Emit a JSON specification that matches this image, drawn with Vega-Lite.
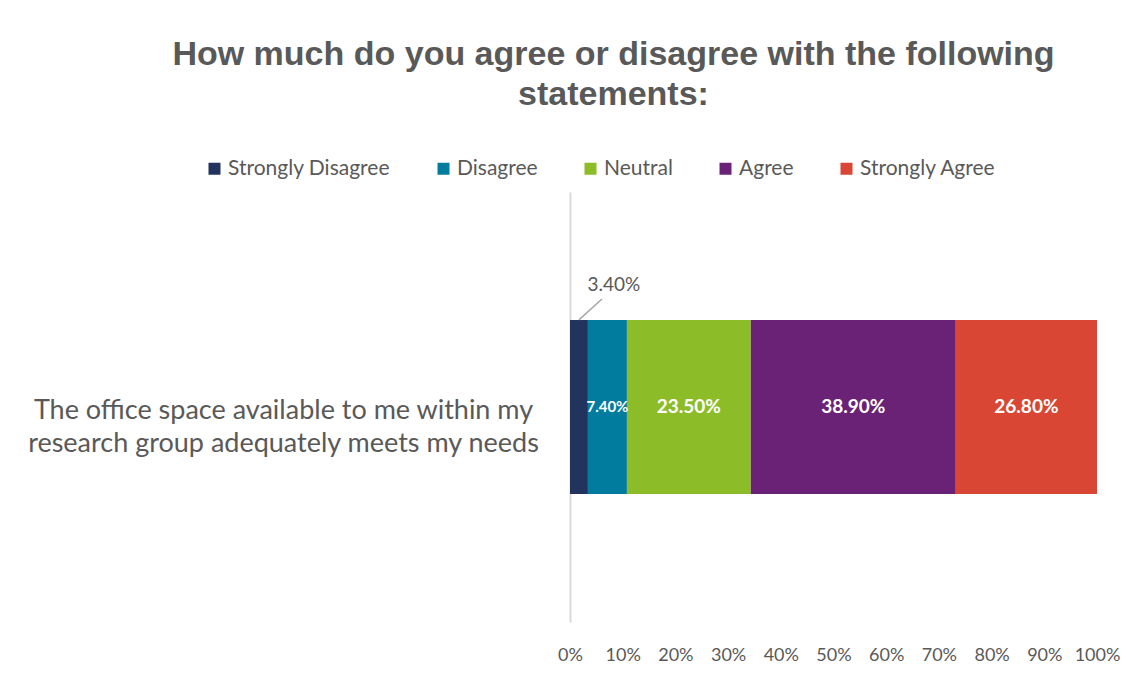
{
  "$schema": "https://vega.github.io/schema/vega-lite/v6.json",
  "width": 527,
  "height": 430,
  "autosize": "none",
  "padding": {"left": 570, "top": 192, "right": 42, "bottom": 55},
  "background": "white",
  "config": {"view": {"stroke": null}},
  "title": {
    "text": ["How much do you agree or disagree with the following", "statements:"],
    "font": "Liberation Sans",
    "fontSize": 34,
    "fontWeight": "bold",
    "color": "#595959",
    "lineHeight": 40,
    "anchor": "middle",
    "frame": "group",
    "dx": -220,
    "offset": 46
  },
  "data": {
    "values": [
      {"q": "The office space available to me within my|research group adequately meets my needs", "response": "Strongly Disagree", "pct": 3.4, "order": 1},
      {"q": "The office space available to me within my|research group adequately meets my needs", "response": "Disagree", "pct": 7.4, "order": 2},
      {"q": "The office space available to me within my|research group adequately meets my needs", "response": "Neutral", "pct": 23.5, "order": 3},
      {"q": "The office space available to me within my|research group adequately meets my needs", "response": "Agree", "pct": 38.9, "order": 4},
      {"q": "The office space available to me within my|research group adequately meets my needs", "response": "Strongly Agree", "pct": 26.8, "order": 5}
    ]
  },
  "transform": [
    {"stack": "pct", "groupby": ["q"], "sort": [{"field": "order", "order": "ascending"}], "as": ["x0", "x1"]},
    {"calculate": "(datum.x0 + datum.x1) / 2", "as": "mid"},
    {"calculate": "format(datum.pct, '.2f') + '%'", "as": "label"}
  ],
  "encoding": {
    "y": {
      "field": "q",
      "type": "nominal",
      "title": null,
      "scale": {"paddingInner": 0.4235, "paddingOuter": 0.4235},
      "axis": {
        "domainColor": "#d9d9d9",
        "domainWidth": 2,
        "ticks": false,
        "labelExpr": "split(datum.label, '|')",
        "labelAlign": "center",
        "labelBaseline": "middle",
        "labelPadding": 287,
        "labelOffset": 4,
        "labelFont": "Lato",
        "labelFontSize": 27,
        "labelLineHeight": 33,
        "labelColor": "#595959",
        "labelLimit": 700
      }
    }
  },
  "layer": [
    {
      "mark": {"type": "bar"},
      "encoding": {
        "x": {
          "field": "x0",
          "type": "quantitative",
          "title": null,
          "scale": {"domain": [0, 100], "nice": false},
          "axis": {
            "values": [0, 10, 20, 30, 40, 50, 60, 70, 80, 90, 100],
            "labelExpr": "datum.value + '%'",
            "domain": false,
            "ticks": false,
            "grid": false,
            "labelPadding": 24,
            "labelFont": "Lato",
            "labelFontSize": 18,
            "labelColor": "#595959",
            "labelFlush": false
          }
        },
        "x2": {"field": "x1"},
        "color": {
          "field": "response",
          "type": "nominal",
          "scale": {
            "domain": ["Strongly Disagree", "Disagree", "Neutral", "Agree", "Strongly Agree"],
            "range": ["#22335e", "#027c9e", "#8cbd29", "#6a2276", "#d94633"]
          },
          "legend": {
            "title": null,
            "orient": "none",
            "direction": "horizontal",
            "legendX": -366,
            "legendY": -34,
            "symbolType": "square",
            "symbolSize": 144,
            "symbolStrokeWidth": 0,
            "symbolOpacity": 1,
            "labelFont": "Lato",
            "labelFontSize": 21,
            "labelColor": "#595959",
            "labelOffset": 3,
            "columnPadding": 42,
            "labelLimit": 300
          }
        },
        "order": {"field": "order"}
      }
    },
    {
      "transform": [{"filter": "datum.pct >= 10"}],
      "mark": {"type": "text", "color": "white", "font": "Lato", "fontSize": 19, "fontWeight": "bold"},
      "encoding": {
        "x": {"field": "mid", "type": "quantitative"},
        "text": {"field": "label"}
      }
    },
    {
      "transform": [{"filter": "datum.pct >= 5 && datum.pct < 10"}],
      "mark": {"type": "text", "color": "white", "font": "Lato", "fontSize": 15, "fontWeight": "bold"},
      "encoding": {
        "x": {"field": "mid", "type": "quantitative"},
        "text": {"field": "label"}
      }
    },
    {
      "transform": [{"filter": "datum.pct < 5"}],
      "mark": {"type": "text", "color": "#595959", "font": "Lato", "fontSize": 19, "dx": 35, "dy": -122},
      "encoding": {
        "x": {"field": "mid", "type": "quantitative"},
        "text": {"field": "label"}
      }
    },
    {
      "transform": [{"filter": "datum.pct < 5"}],
      "mark": {"type": "rule", "color": "#a6a6a6", "strokeWidth": 1.5, "x2Offset": 23, "y2Offset": -108},
      "encoding": {
        "x": {"field": "mid", "type": "quantitative"},
        "x2": {"field": "mid"},
        "y": {"field": "q", "type": "nominal", "bandPosition": 0},
        "y2": {"field": "q"}
      }
    }
  ]
}
